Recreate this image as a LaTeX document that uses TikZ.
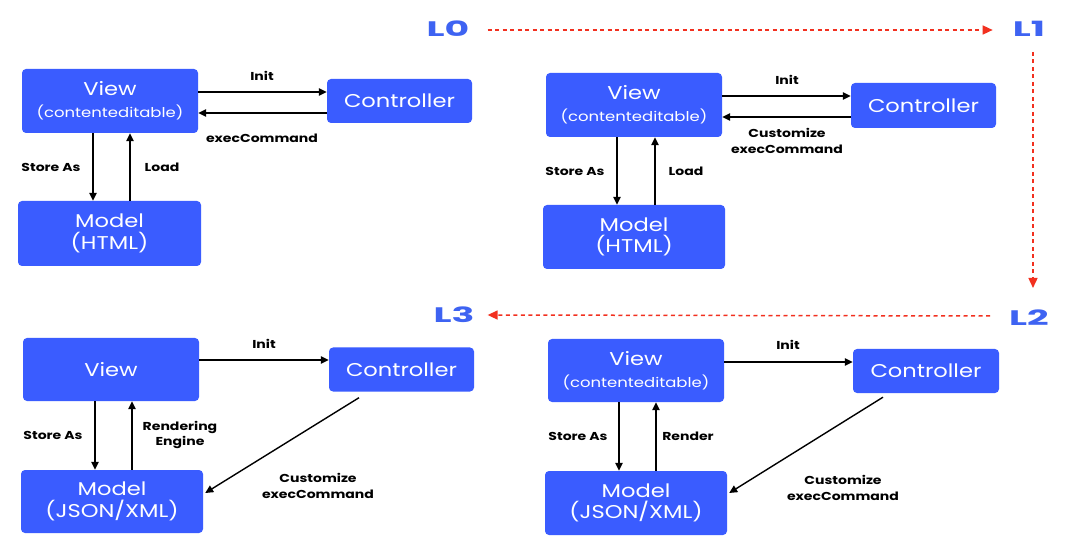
\documentclass[tikz,border=0pt]{standalone}
\usepackage{fontspec}
\setmainfont{Poppins}
\newfontfamily\widefont{Poppins}[FakeStretch=1.22]
\newfontfamily\labfont{Poppins}[FakeStretch=1.22]
\newfontfamily\levfont{Poppins}[FakeStretch=1.8]
\usetikzlibrary{arrows.meta}
\definecolor{boxblue}{HTML}{3A5CFF}
\definecolor{lblue}{HTML}{3E63F2}
\definecolor{lred}{HTML}{F2301F}
\begin{document}
\begin{tikzpicture}[x=1pt,y=-1pt,
  box/.style={fill=boxblue, draw=none, rounded corners=4pt, text=white, align=center, inner sep=0pt, font=\widefont\fontsize{18.5}{21.5}\selectfont},
  lab/.style={font=\labfont\fontsize{11.5}{15.5}\selectfont\bfseries, align=center, inner sep=0pt},
  lev/.style={text=lblue, font=\levfont\fontsize{21}{21}\selectfont\bfseries, inner sep=0pt},
  arr/.style={draw=black, line width=1.4pt, -{Triangle[length=8pt,width=7.5pt]}},
  red arr/.style={draw=lred, line width=1.5pt, dash pattern=on 4pt off 3.5pt, -{Triangle[length=10pt,width=9pt]}}
]
\useasboundingbox (0,0) rectangle (1080,548);
\fill[white] (0,0) rectangle (1080,548);

% ---------- L0 ----------
\node[box, minimum width=176pt, minimum height=64pt] (v0) at (110,101) {View\\[0.5pt]{\fontsize{13.5}{16}\selectfont(contenteditable)}};
\node[box, minimum width=145pt, minimum height=44pt] (c0) at (399.5,101) {Controller};
\node[box, minimum width=183pt, minimum height=65pt] (m0) at (109.5,233.5) {Model\\(HTML)};
\draw[arr] ([yshift=9pt]v0.east) -- ([yshift=9pt]c0.west);
\draw[arr] ([yshift=-12pt]c0.west) -- ([yshift=-12pt]v0.east);
\draw[arr] ([xshift=-17pt]v0.south) -- ([xshift=-16.5pt]m0.north);
\draw[arr] ([xshift=20.5pt]m0.north) -- ([xshift=20pt]v0.south);
\node[lab] (i0) at (262,76) {Init};
\node[lab] (e0) at (262,138) {execCommand};
\node[lab] (s0) at (51,167) {Store As};
\node[lab] (l0) at (162,167) {Load};

% ---------- L1 ----------
\node[box, minimum width=176pt, minimum height=64pt] (v1) at (634,105) {View\\[0.5pt]{\fontsize{13.5}{16}\selectfont(contenteditable)}};
\node[box, minimum width=145pt, minimum height=45pt] (c1) at (923.5,105.5) {Controller};
\node[box, minimum width=182pt, minimum height=64pt] (m1) at (634,237) {Model\\(HTML)};
\draw[arr] ([yshift=9pt]v1.east) -- ([yshift=9.5pt]c1.west);
\draw[arr] ([yshift=-11.5pt]c1.west) -- ([yshift=-12pt]v1.east);
\draw[arr] ([xshift=-17pt]v1.south) -- ([xshift=-17pt]m1.north);
\draw[arr] ([xshift=21pt]m1.north) -- ([xshift=21pt]v1.south);
\node[lab] (i1) at (787,80) {Init};
\node[lab] (e1) at (787,141) {Customize\\execCommand};
\node[lab] (s1) at (575,171) {Store As};
\node[lab] (l1) at (686,171) {Load};

% ---------- L3 (bottom left) ----------
\node[box, minimum width=176pt, minimum height=63pt] (v3) at (111,369.5) {View};
\node[box, minimum width=145pt, minimum height=44pt] (c3) at (401.5,369.5) {Controller};
\node[box, minimum width=182pt, minimum height=63pt] (m3) at (112,501.5) {Model\\(JSON/XML)};
\draw[arr] ([yshift=9.5pt]v3.east) -- ([yshift=9.5pt]c3.west);
\draw[arr] ([xshift=-16pt]v3.south) -- ([xshift=-17pt]m3.north);
\draw[arr] ([xshift=20pt]m3.north) -- ([xshift=21pt]v3.south);
\draw[arr] ([xshift=-42.5pt,yshift=-6pt]c3.south) -- ([xshift=2pt,yshift=8.5pt]m3.east);
\node[lab] (i3) at (264,344) {Init};
\node[lab] (s3) at (53,435) {Store As};
\node[lab] (r3) at (180,435) {Rendering\\Engine};
\node[lab] (e3) at (318,486) {Customize\\execCommand};

% ---------- L2 (bottom right) ----------
\node[box, minimum width=176pt, minimum height=63pt] (v2) at (636,370.5) {View\\[0.5pt]{\fontsize{13.5}{16}\selectfont(contenteditable)}};
\node[box, minimum width=146pt, minimum height=44pt] (c2) at (926,371) {Controller};
\node[box, minimum width=182pt, minimum height=64pt] (m2) at (636,503) {Model\\(JSON/XML)};
\draw[arr] ([yshift=8.5pt]v2.east) -- ([yshift=9pt]c2.west);
\draw[arr] ([xshift=-17pt]v2.south) -- ([xshift=-17pt]m2.north);
\draw[arr] ([xshift=20pt]m2.north) -- ([xshift=20pt]v2.south);
\draw[arr] ([xshift=-43pt,yshift=-4pt]c2.south) -- ([xshift=2pt,yshift=10pt]m2.east);
\node[lab] (i2) at (788,345) {Init};
\node[lab] (s2) at (578,436) {Store As};
\node[lab] (r2) at (688,436) {Render};
\node[lab] (e2) at (843,488) {Customize\\execCommand};

% ---------- levels ----------
\node[lev] (L0) at (448,29) {L0};
\node[lev] (L1) at (1029,29) {L1};
\node[lev] (L2) at (1029,318) {L2};
\node[lev] (L3) at (454,315) {L3};
\draw[red arr] ([xshift=18pt,yshift=-1pt]L0.east) -- ([xshift=-20pt,yshift=-1pt]L1.west);
\draw[red arr] ([xshift=4pt,yshift=-15pt]L1.south) -- ([xshift=4pt,yshift=22pt]L2.north);
\draw[red arr] ([xshift=-19pt,yshift=2pt]L2.west) -- ([xshift=13pt]L3.east);
\end{tikzpicture}
\end{document}
